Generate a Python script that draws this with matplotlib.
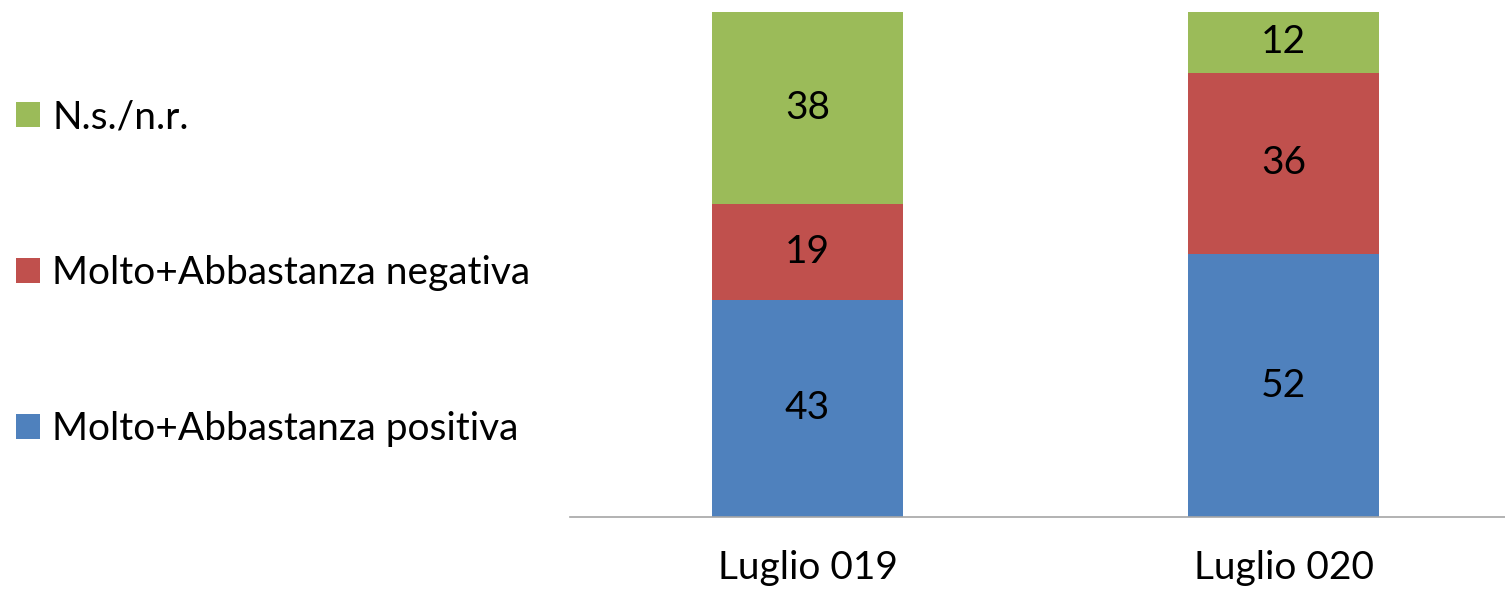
import matplotlib
matplotlib.use("Agg")

import matplotlib.pyplot as plt
import numpy as np

# Daten
categories = ["Luglio 019", "Luglio 020"]
positiva = [43, 52]
negativa = [19, 36]
nsnr = [38, 12]

series_labels = [
    "Molto+Abbastanza positiva",
    "Molto+Abbastanza negativa",
    "N.s./n.r.",
]
colors = ["#4F81BD", "#C0504D", "#9BBB59"]

plt.rcParams["font.family"] = ["Lato", "DejaVu Sans"]

fig = plt.figure(figsize=(15.05, 5.91), dpi=100)
ax = fig.add_axes([569.5 / 1505, 74 / 591, 952 / 1505, 505 / 591])

x = np.arange(len(categories))
bottom = np.zeros(len(categories))
handles = []
for vals, lab, col in zip([positiva, negativa, nsnr], series_labels, colors):
    bars = ax.bar(x, vals, width=0.4, bottom=bottom, color=col, label=lab)
    ax.bar_label(bars, label_type="center", fontsize=28, color="black")
    bottom += np.array(vals)
    handles.append(bars)

ax.set_xlim(-0.5, 1.5)
ax.set_ylim(0, 100)
ax.set_xticks(x)
ax.set_xticklabels(categories, fontsize=28)
ax.tick_params(axis="x", length=0, pad=24)
ax.set_yticks([])
for side in ["left", "right", "top"]:
    ax.spines[side].set_visible(False)
ax.spines["bottom"].set_color("#A6A6A6")
ax.spines["bottom"].set_linewidth(1.2)

# Legende links, umgekehrte Reihenfolge wie im Original
fig.legend(
    handles[::-1],
    series_labels[::-1],
    loc="center left",
    bbox_to_anchor=(0.0, 0.538),
    frameon=False,
    fontsize=28,
    handlelength=0.62,
    handleheight=0.62,
    handletextpad=0.33,
    labelspacing=3.08,
    borderaxespad=0.0,
)

fig.savefig("out.png", dpi=100)
